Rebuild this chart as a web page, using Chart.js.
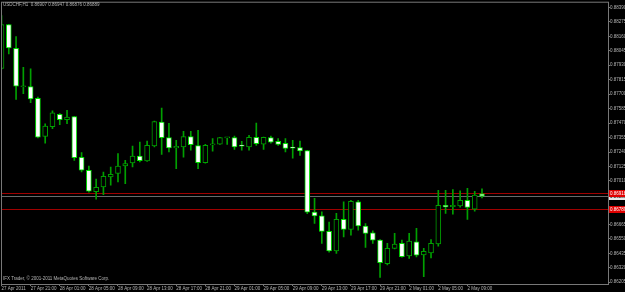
<!DOCTYPE html>
<html>
<head>
<meta charset="utf-8">
<title>USDCHF,H1</title>
<script src="https://cdn.jsdelivr.net/npm/chart.js@4.4.1/dist/chart.umd.min.js"></script>
<style>
  html, body { margin: 0; padding: 0; background: #000; }
  canvas { display: block; }
</style>
</head>
<body>
<canvas id="chart" width="625" height="292"></canvas>
<script>
// USDCHF H1 bars, 27 Apr 2011 17:00 -> 2 May 2011 11:00
const open = [
  0.87904, 0.88253, 0.88065, 0.87759, 0.87761, 0.87666, 0.87365, 0.87441, 0.87539, 0.87497,
  0.87521, 0.87198, 0.87095, 0.86924, 0.86962, 0.87042, 0.87069, 0.87129, 0.87153, 0.87208,
  0.87169, 0.87288, 0.87478, 0.87354, 0.87273, 0.87280, 0.87362, 0.87291, 0.87156, 0.87297,
  0.87303, 0.87352, 0.87354, 0.87290, 0.87280, 0.87357, 0.87303, 0.87354, 0.87325, 0.87309,
  0.87275, 0.87275, 0.87251, 0.86762, 0.86733, 0.86609, 0.86453, 0.86706, 0.86625, 0.86844,
  0.86651, 0.86598, 0.86540, 0.86352, 0.86474, 0.86514, 0.86415, 0.86526, 0.86423, 0.86439,
  0.86510, 0.86817, 0.86806, 0.86812, 0.86857, 0.86786, 0.86907
];
const high = [
  0.88324, 0.88256, 0.88158, 0.87914, 0.87901, 0.87676, 0.87465, 0.87568, 0.87545, 0.87571,
  0.87523, 0.87235, 0.87129, 0.87024, 0.87081, 0.87121, 0.87227, 0.87174, 0.87288, 0.87319,
  0.87327, 0.87487, 0.87589, 0.87468, 0.87333, 0.87404, 0.87404, 0.87412, 0.87301, 0.87346,
  0.87357, 0.87356, 0.87367, 0.87325, 0.87372, 0.87470, 0.87359, 0.87367, 0.87346, 0.87346,
  0.87333, 0.87327, 0.87254, 0.86871, 0.86764, 0.86683, 0.86752, 0.86844, 0.86857, 0.86857,
  0.86672, 0.86614, 0.86544, 0.86514, 0.86593, 0.86540, 0.86593, 0.86633, 0.86474, 0.86545,
  0.86936, 0.86936, 0.86942, 0.86931, 0.86952, 0.86928, 0.86947
];
const low = [
  0.87900, 0.88020, 0.87658, 0.87703, 0.87632, 0.87353, 0.87311, 0.87426, 0.87457, 0.87465,
  0.87174, 0.87081, 0.86920, 0.86865, 0.86902, 0.86976, 0.87002, 0.86989, 0.87121, 0.87161,
  0.87166, 0.87281, 0.87222, 0.87240, 0.87108, 0.87200, 0.87254, 0.87108, 0.87152, 0.87246,
  0.87301, 0.87301, 0.87261, 0.87254, 0.87254, 0.87293, 0.87261, 0.87311, 0.87293, 0.87240,
  0.87192, 0.87214, 0.86750, 0.86672, 0.86514, 0.86445, 0.86434, 0.86566, 0.86579, 0.86619,
  0.86482, 0.86514, 0.86244, 0.86342, 0.86470, 0.86405, 0.86395, 0.86407, 0.86249, 0.86399,
  0.86492, 0.86752, 0.86746, 0.86802, 0.86704, 0.86770, 0.86876
];
const close = [
  0.88253, 0.88068, 0.87763, 0.87763, 0.87662, 0.87359, 0.87446, 0.87552, 0.87497, 0.87518,
  0.87196, 0.87095, 0.86928, 0.86960, 0.87047, 0.87063, 0.87129, 0.87148, 0.87208, 0.87172,
  0.87293, 0.87483, 0.87354, 0.87272, 0.87285, 0.87362, 0.87299, 0.87156, 0.87293, 0.87303,
  0.87354, 0.87355, 0.87280, 0.87287, 0.87357, 0.87307, 0.87357, 0.87319, 0.87301, 0.87269,
  0.87271, 0.87248, 0.86762, 0.86733, 0.86609, 0.86453, 0.86706, 0.86625, 0.86849, 0.86653,
  0.86593, 0.86540, 0.86360, 0.86474, 0.86508, 0.86409, 0.86532, 0.86421, 0.86450, 0.86514,
  0.86817, 0.86804, 0.86816, 0.86857, 0.86799, 0.86897, 0.86889
];

// time labels, one every 4 bars
const timeLabels = [
  '27 Apr 2011', '27 Apr 21:00', '28 Apr 01:00', '28 Apr 05:00', '28 Apr 09:00',
  '28 Apr 13:00', '28 Apr 17:00', '28 Apr 21:00', '29 Apr 01:00', '29 Apr 05:00',
  '29 Apr 09:00', '29 Apr 13:00', '29 Apr 17:00', '29 Apr 21:00', '2 May 01:00',
  '2 May 05:00', '2 May 09:00'
];
const priceTicks = [
  0.88390, 0.88275, 0.88160, 0.88045, 0.87930, 0.87815, 0.87700, 0.87585, 0.87470, 0.87355,
  0.87240, 0.87125, 0.87010, 0.86895, 0.86780, 0.86665, 0.86550, 0.86435, 0.86320, 0.86205
];

const bidPrice = 0.86889;
const askPrice = 0.86918;
const levelPrice = 0.86789;

const FONT = 'Liberation Sans';
const TXT = '#b4b4b4';
const FRAME = '#787878';

const idx = open.map((v, i) => i);
const isBull = i => close[i] >= open[i];

const bodies = idx.map(i => ({ x: i, y: [open[i], close[i]] }));
const wicks = idx.map(i => ({ x: i, y: [low[i], high[i]] }));

const overlay = {
  id: 'overlay',
  beforeDatasetsDraw(chart) {
    const { ctx, chartArea: a, scales: { y } } = chart;
    ctx.save();
    const hline = (p, col) => {
      const py = Math.round(y.getPixelForValue(p)) + 0.5;
      ctx.strokeStyle = col;
      ctx.lineWidth = 1;
      ctx.beginPath();
      ctx.moveTo(a.left, py);
      ctx.lineTo(a.right, py);
      ctx.stroke();
    };
    hline(bidPrice, '#6a6a6a');
    hline(askPrice, '#a00000');
    hline(levelPrice, '#a00000');
    ctx.restore();
  },
  afterDraw(chart) {
    const { ctx, chartArea: a, scales: { y } } = chart;
    ctx.save();
    // frame
    ctx.strokeStyle = FRAME;
    ctx.lineWidth = 1;
    ctx.strokeRect(a.left + 0.5, a.top - 0.5, a.right - a.left, a.bottom - a.top + 1);

    // price boxes on the right
    const box = (p, bg, fg) => {
      const py = Math.round(y.getPixelForValue(p));
      ctx.fillStyle = bg;
      ctx.fillRect(a.right + 1, py - 3, 625 - a.right, 7);
      ctx.fillStyle = fg;
      ctx.font = `4.5px "${FONT}"`;
      ctx.textBaseline = 'middle';
      ctx.textAlign = 'left';
      ctx.fillText(p.toFixed(5), a.right + 2, py + 0.5);
    };
    box(bidPrice, '#e8e8e8', '#000');
    box(askPrice, '#e00000', '#fff');
    box(levelPrice, '#e00000', '#fff');

    // title + copyright
    ctx.fillStyle = TXT;
    ctx.font = `4.5px "${FONT}"`;
    ctx.textBaseline = 'top';
    ctx.textAlign = 'left';
    const last = open.length - 1;
    ctx.fillText(`USDCHF,H1  ${open[last].toFixed(5)} ${high[last].toFixed(5)} ${low[last].toFixed(5)} ${close[last].toFixed(5)}`, 3, 3);
    ctx.fillText('IFX Trader, \u00a9 2001-2011 MetaQuotes Software Corp.', 3, 277);
    ctx.restore();
  }
};

new Chart(document.getElementById('chart'), {
  type: 'bar',
  data: {
    datasets: [
      {
        label: 'body',
        data: bodies,
        grouped: false,
        barThickness: 5,
        minBarLength: 1,
        borderWidth: 1,
        borderSkipped: false,
        backgroundColor: idx.map(i => (isBull(i) ? '#000000' : '#ffffff')),
        borderColor: idx.map(i => (isBull(i) ? '#00a000' : '#00e000'))
      },
      {
        label: 'wick',
        data: wicks,
        grouped: false,
        barThickness: 1,
        borderWidth: 0,
        backgroundColor: '#00a000'
      }
    ]
  },
  options: {
    responsive: false,
    animation: false,
    events: [],
    layout: { padding: { left: 1, top: 2, right: 0, bottom: 0 } },
    plugins: {
      legend: { display: false },
      tooltip: { enabled: false },
      title: { display: false }
    },
    scales: {
      x: {
        type: 'linear',
        offset: false,
        min: -0.07,
        max: 83.31,
        afterBuildTicks: s => { s.ticks = timeLabels.map((t, i) => ({ value: i * 4 })); },
        afterFit: s => { s.height = 8; },
        grid: { offset: false, drawOnChartArea: false, drawTicks: true, tickLength: 2, color: FRAME },
        border: { display: true, color: FRAME },
        ticks: {
          autoSkip: false,
          maxRotation: 0,
          align: 'start',
          padding: 0,
          color: TXT,
          font: { family: FONT, size: 4.5 },
          callback: (v, i) => timeLabels[i]
        }
      },
      y: {
        position: 'right',
        min: 0.86191,
        max: 0.88427,
        afterBuildTicks: s => { s.ticks = priceTicks.map(v => ({ value: v })); },
        afterFit: s => { s.width = 17; },
        grid: { drawOnChartArea: false, drawTicks: true, tickLength: 2, color: FRAME },
        border: { display: true, color: FRAME },
        ticks: {
          padding: 0,
          color: TXT,
          font: { family: FONT, size: 4.5 },
          callback: v => v.toFixed(5)
        }
      }
    }
  },
  plugins: [overlay]
});
</script>
</body>
</html>
